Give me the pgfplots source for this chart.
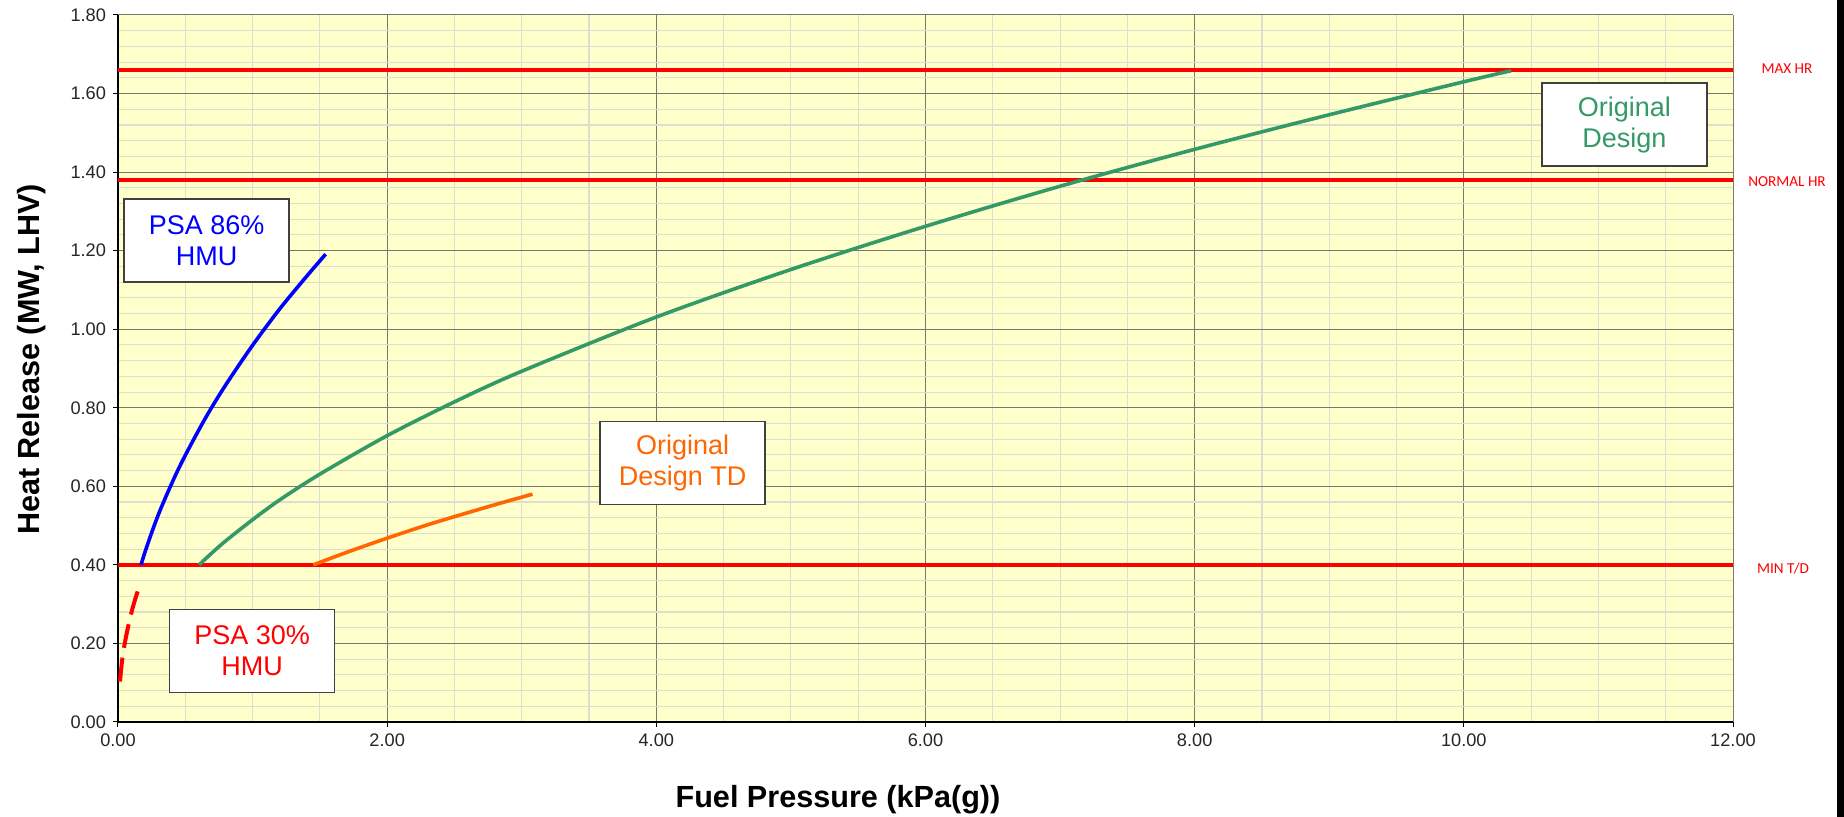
\documentclass[border=0pt]{standalone}
\usepackage{pgfplots}
\pgfplotsset{compat=1.18}
\usepackage{fontspec}
\setmainfont{Liberation Sans}
\newfontfamily\carlito{Carlito}
\definecolor{bgyellow}{RGB}{255,255,204}
\definecolor{majgrid}{RGB}{120,120,110}
\definecolor{mingrid}{RGB}{222,222,206}
\definecolor{sgreen}{RGB}{51,153,102}
\definecolor{dorange}{RGB}{255,102,0}
\definecolor{boxline}{RGB}{64,64,64}
\begin{document}
\begin{tikzpicture}
\useasboundingbox (-59pt,-47.5pt) rectangle (863pt,361pt);
\begin{axis}[
  scale only axis, width=807.5pt, height=353.5pt,
  xmin=0, xmax=12, ymin=0, ymax=1.8,
  axis x line=bottom, axis y line=left,
  axis line style={-, black, line width=0.8pt},
  axis background/.style={fill=bgyellow},
  xtick={0,2,4,6,8,10,12},
  ytick={0,0.2,0.4,0.6,0.8,1.0,1.2,1.4,1.6,1.8},
  minor x tick num=3, minor y tick num=4,
  grid=both,
  major grid style={majgrid, line width=0.5pt},
  minor grid style={mingrid, line width=0.55pt},
  tick align=outside, major tick length=2.5pt, minor tick length=0pt,
  tick style={black, line width=0.5pt},
  scaled ticks=false,
  /pgf/number format/.cd, fixed, fixed zerofill, precision=2, assume math mode=true,
  /pgfplots/.cd,
  tick label style={font=\fontsize{9.1}{10}\selectfont, text=black!85},
  clip=false,
  every axis plot/.append style={no markers},
]
% reference lines
\addplot[red, line width=2pt] coordinates {(0,1.66) (12,1.66)};
\addplot[red, line width=2pt] coordinates {(0,1.38) (12,1.38)};
\addplot[red, line width=2pt] coordinates {(0,0.40) (12,0.40)};
% PSA 30% HMU (dashed)
\addplot[red, line width=2pt, smooth, dash pattern=on 12pt off 5pt] coordinates {
(0.015,0.103) (0.03,0.155) (0.05,0.200) (0.08,0.250) (0.11,0.292) (0.14,0.326) (0.168,0.355)};
% PSA 86% HMU
\addplot[blue, line width=1.8pt, smooth] coordinates {
(0.171,0.400) (0.2,0.432) (0.25,0.482) (0.3,0.528) (0.35,0.569) (0.42,0.623) (0.5,0.679)
(0.65,0.774) (0.8,0.858) (1.0,0.959) (1.2,1.051) (1.4,1.134) (1.543,1.191)};
% Original Design
\addplot[sgreen, line width=1.8pt, smooth] coordinates {
(0.602,0.400) (0.7,0.431) (0.8,0.461) (1.0,0.515) (1.2,0.565) (1.5,0.631) (2,0.729)
(2.5,0.815) (3,0.893) (4,1.031) (5,1.152) (6,1.262) (7,1.364) (8,1.458) (9,1.546)
(10,1.630) (10.35,1.658)};
% Original Design TD
\addplot[dorange, line width=1.8pt, smooth] coordinates {
(1.451,0.400) (1.7,0.432) (2.0,0.468) (2.3,0.502) (2.6,0.533) (2.85,0.558) (3.08,0.580)};
% text boxes
\tikzset{lbl/.style={draw=boxline, line width=0.8pt, fill=white, align=center,
  minimum width=82.5pt, minimum height=41.5pt, inner sep=0pt,
  font=\fontsize{13.5}{15.5}\selectfont}}
\node[lbl, text=blue] at (axis cs:0.658,1.226) {PSA 86\%\\HMU};
\node[lbl, text=red] at (axis cs:0.996,0.181) {PSA 30\%\\HMU};
\node[lbl, text=dorange] at (axis cs:4.196,0.659) {Original\\Design TD};
\node[lbl, text=sgreen] at (axis cs:11.193,1.521) {Original\\Design};
\end{axis}
% axis labels
\node[rotate=90, anchor=base, font=\fontsize{15.3}{18}\selectfont\bfseries] at (-39pt,181.5pt) {Heat Release (MW, LHV)};
\node[anchor=base, font=\fontsize{15.3}{18}\selectfont\bfseries] at (360pt,-43pt) {Fuel Pressure (kPa(g))};
% right-hand labels
\node[text=red, font=\carlito\fontsize{7.6}{9}\selectfont] at (834.5pt,326.5pt) {MAX HR};
\node[text=red, font=\carlito\fontsize{7.6}{9}\selectfont] at (834.5pt,270pt) {NORMAL HR};
\node[text=red, font=\carlito\fontsize{7.6}{9}\selectfont] at (832.5pt,76.5pt) {MIN T/D};
\fill[black] (859.3pt,-47.5pt) rectangle (863pt,361pt);
\end{tikzpicture}
\end{document}
